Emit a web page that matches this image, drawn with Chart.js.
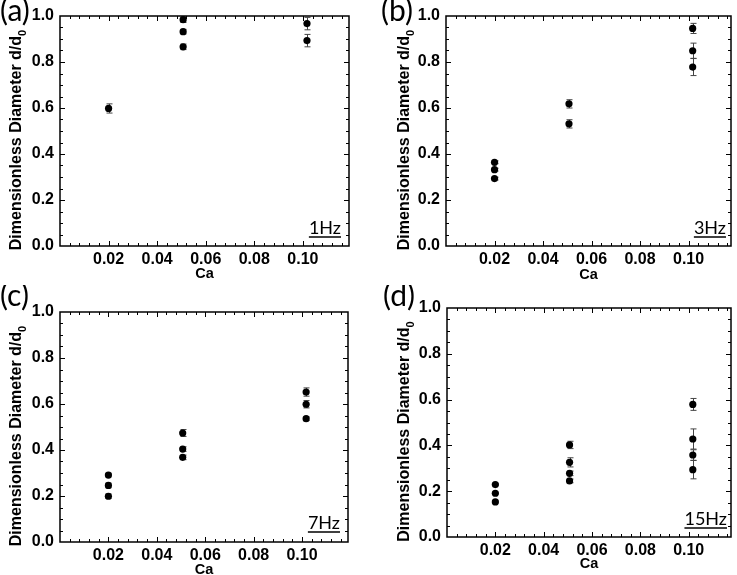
<!DOCTYPE html>
<html>
<head>
<meta charset="utf-8">
<script src="https://cdn.jsdelivr.net/npm/chart.js@4.4.1/dist/chart.umd.min.js"></script>
<style>
    html, body { margin: 0; padding: 0; background: #fff; }
    #wrap { position: relative; width: 737px; height: 575px; overflow: hidden; }
    .panel { position: absolute; }
</style>
</head>
<body>
<div id="wrap">
    <div class="panel" style="left:0;top:0;width:368px;height:285px"><canvas id="pA"></canvas></div>
    <div class="panel" style="left:368px;top:0;width:369px;height:285px"><canvas id="pB"></canvas></div>
    <div class="panel" style="left:0;top:285px;width:368px;height:290px"><canvas id="pC"></canvas></div>
    <div class="panel" style="left:368px;top:285px;width:369px;height:290px"><canvas id="pD"></canvas></div>
</div>
<script>
// etiquetas y ejes
const panelTags = ['(a)', '(b)', '(c)', '(d)'];
const freqLabels = ['1Hz', '3Hz', '7Hz', '15Hz'];
const xTicks = [0.02, 0.04, 0.06, 0.08, 0.10];
const yTicks = [0.0, 0.2, 0.4, 0.6, 0.8, 1.0];
const xTitle = 'Ca';
const yTitle = 'Dimensionless Diameter d/d';
const yTitleSub = '0';

// 1 Hz
const ca1 = [0.020, 0.0507, 0.0507, 0.0507, 0.1017, 0.1017];
const dd1 = [0.598, 0.984, 0.932, 0.866, 0.967, 0.893];
const er1 = [0.020, 0.012, 0.010, 0.012, 0.027, 0.027];
// 3 Hz
const ca3 = [0.020, 0.020, 0.020, 0.0507, 0.0507, 0.1017, 0.1017, 0.1017];
const dd3 = [0.364, 0.332, 0.293, 0.618, 0.531, 0.946, 0.849, 0.778];
const er3 = [0.006, 0.006, 0.006, 0.018, 0.018, 0.022, 0.033, 0.037];
// 7 Hz
const ca7 = [0.020, 0.020, 0.020, 0.0507, 0.0507, 0.0507, 0.1017, 0.1017, 0.1017];
const dd7 = [0.291, 0.246, 0.199, 0.474, 0.404, 0.368, 0.652, 0.599, 0.536];
const er7 = [0.008, 0.010, 0.010, 0.015, 0.010, 0.010, 0.018, 0.016, 0.008];
// 15 Hz
const ca15 = [0.020, 0.020, 0.020, 0.0507, 0.0507, 0.0507, 0.0507, 0.1017, 0.1017, 0.1017, 0.1017];
const dd15 = [0.229, 0.191, 0.153, 0.402, 0.326, 0.278, 0.245, 0.579, 0.428, 0.358, 0.294];
const er15 = [0.004, 0.004, 0.004, 0.016, 0.020, 0.010, 0.008, 0.026, 0.044, 0.023, 0.040];

const ARIAL = '"Liberation Sans", Arial, sans-serif';
const CALIBRI = 'Lato, "Open Sans", sans-serif';

// bordes, ticks hacia adentro, títulos, barras de error
const frame = {
    id: 'frame',
    beforeDatasetsDraw(chart, args, o) {
        const ctx = chart.ctx;
        const xs = chart.scales.x, ys = chart.scales.y;
        ctx.save();
        ctx.strokeStyle = '#444';
        ctx.lineWidth = 1;
        chart.data.datasets.forEach(ds => {
            ds.data.forEach((p, i) => {
                const e = ds.err[i];
                const px = Math.round(xs.getPixelForValue(p.x)) + 0.5;
                const y1 = ys.getPixelForValue(p.y + e);
                const y2 = ys.getPixelForValue(p.y - e);
                ctx.beginPath();
                ctx.moveTo(px, y1); ctx.lineTo(px, y2);
                ctx.moveTo(px - 3, y1); ctx.lineTo(px + 3, y1);
                ctx.moveTo(px - 3, y2); ctx.lineTo(px + 3, y2);
                ctx.stroke();
            });
        });
        ctx.restore();
    },
    afterDraw(chart, args, o) {
        const ctx = chart.ctx;
        const { left, right, top, bottom } = chart.chartArea;
        const xs = chart.scales.x, ys = chart.scales.y;
        ctx.save();
        ctx.strokeStyle = '#000';

        // ticks menores y mayores (en los cuatro lados)
        ctx.lineWidth = 1;
        ctx.beginPath();
        for (let i = 1; i * 0.004 < xs.max; i++) {
            const px = Math.round(xs.getPixelForValue(i * 0.004)) + 0.5;
            const len = i % 5 === 0 ? 5 : 3;
            ctx.moveTo(px, bottom); ctx.lineTo(px, bottom - len);
            ctx.moveTo(px, top); ctx.lineTo(px, top + len);
        }
        for (let i = 1; i < 20; i++) {
            const py = Math.round(ys.getPixelForValue(i * 0.05)) + 0.5;
            const len = i % 4 === 0 ? 5 : 3;
            ctx.moveTo(left, py); ctx.lineTo(left + len, py);
            ctx.moveTo(right, py); ctx.lineTo(right - len, py);
        }
        ctx.stroke();

        ctx.lineWidth = 1.5;
        ctx.strokeRect(left, top, right - left, bottom - top);

        ctx.fillStyle = '#000';
        // título eje x
        ctx.font = 'bold 14.5px ' + ARIAL;
        ctx.textAlign = 'center';
        ctx.textBaseline = 'middle';
        ctx.fillText(xTitle, (left + right) / 2, o.caY);

        // título eje y con subíndice
        ctx.save();
        ctx.translate(o.yTitleX, (top + bottom) / 2 + 9);
        ctx.rotate(-Math.PI / 2);
        ctx.font = 'bold 16px ' + ARIAL;
        const w1 = ctx.measureText(yTitle).width;
        ctx.font = 'bold 11px ' + ARIAL;
        const w2 = ctx.measureText(yTitleSub).width;
        const x0 = -(w1 + w2) / 2;
        ctx.textAlign = 'left';
        ctx.font = 'bold 16px ' + ARIAL;
        ctx.fillText(yTitle, x0, 0);
        ctx.font = 'bold 11px ' + ARIAL;
        ctx.fillText(yTitleSub, x0 + w1, 6);
        ctx.restore();

        // etiqueta del panel
        ctx.font = '30px ' + CALIBRI;
        ctx.textAlign = 'left';
        ctx.textBaseline = 'top';
        ctx.fillText(o.tag, o.tagX, -4);

        // frecuencia subrayada
        ctx.font = '18px ' + CALIBRI;
        ctx.textAlign = 'right';
        ctx.textBaseline = 'alphabetic';
        const fx = right - o.fRight, fy = bottom - o.fBottom;
        ctx.fillText(o.freq, fx, fy);
        const fw = ctx.measureText(o.freq).width;
        ctx.lineWidth = 1.5;
        ctx.beginPath();
        ctx.moveTo(fx - fw, fy + 3);
        ctx.lineTo(fx, fy + 3);
        ctx.stroke();
        ctx.restore();
    }
};

function makePanel(id, xs, ys, es, o) {
    const tickFont = { family: ARIAL, size: 16, weight: 'bold' };
    return new Chart(document.getElementById(id), {
        type: 'scatter',
        data: {
            datasets: [{
                data: xs.map((x, i) => ({ x: x, y: ys[i] })),
                err: es,
                pointRadius: 3.6,
                pointBackgroundColor: '#000',
                pointBorderColor: '#000',
                pointBorderWidth: 0
            }]
        },
        options: {
            responsive: true, maintainAspectRatio: false, animation: false,
            layout: { padding: { left: 0, top: o.top, right: o.right, bottom: 0 } },
            plugins: { legend: { display: false }, tooltip: { enabled: false }, frame: o },
            scales: {
                x: {
                    type: 'linear', min: 0, max: o.xMax,
                    afterBuildTicks: s => { s.ticks = xTicks.map(v => ({ value: v })); },
                    afterFit: s => { s.height = o.xh; },
                    grid: { display: false, drawTicks: false },
                    border: { display: false },
                    ticks: { font: tickFont, color: '#000', padding: o.xpad, maxRotation: 0, autoSkip: false, callback: v => v.toFixed(2) }
                },
                y: {
                    type: 'linear', min: 0, max: 1,
                    afterBuildTicks: s => { s.ticks = yTicks.map(v => ({ value: v })); },
                    afterFit: s => { s.width = o.yw; },
                    grid: { display: false, drawTicks: false },
                    border: { display: false },
                    ticks: { font: tickFont, color: '#000', padding: 6, callback: v => v.toFixed(1) }
                }
            }
        },
        plugins: [frame]
    });
}

makePanel('pA', ca1, dd1, er1, { tag: panelTags[0], freq: freqLabels[0], xMax: 0.119, top: 16, right: 19, yw: 60, xh: 39, xpad: 4, caY: 274, yTitleX: 17, tagX: 0, fRight: 8, fBottom: 12 });
makePanel('pB', ca3, dd3, er3, { tag: panelTags[1], freq: freqLabels[1], xMax: 0.1175, top: 16, right: 6, yw: 78, xh: 39, xpad: 4, caY: 275, yTitleX: 37, tagX: 13, fRight: 5, fBottom: 12 });
makePanel('pC', ca7, dd7, er7, { tag: panelTags[2], freq: freqLabels[2], xMax: 0.119, top: 27, right: 20, yw: 60, xh: 33, xpad: 4, caY: 285, yTitleX: 17, tagX: 0, fRight: 8, fBottom: 13 });
makePanel('pD', ca15, dd15, er15, { tag: panelTags[3], freq: freqLabels[3], xMax: 0.1175, top: 23, right: 6, yw: 79, xh: 38, xpad: 4, caY: 279, yTitleX: 37, tagX: 15, fRight: 4, fBottom: 12 });
</script>
</body>
</html>
